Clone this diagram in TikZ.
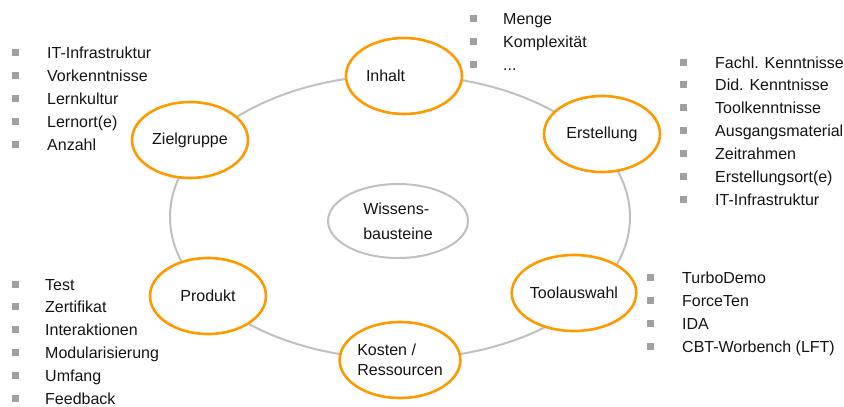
\documentclass[tikz,border=0pt]{standalone}
\usepackage{fontspec}
\setmainfont{Liberation Sans}
\usetikzlibrary{shapes.geometric}
\definecolor{ringgray}{RGB}{192,192,192}
\definecolor{topicorange}{RGB}{255,153,0}
\definecolor{bulletgray}{RGB}{160,160,160}
\definecolor{textblack}{RGB}{20,20,20}
\newcommand\weiterepunkte{...}
\begin{document}
\begin{tikzpicture}[x=1pt,y=-1pt,font=\fontsize{16}{19}\selectfont,text=textblack,line join=round,line cap=round]
\tikzset{topic/.style={ellipse,draw=topicorange,line width=2.6pt,fill=white,minimum width=116pt,minimum height=76pt,inner sep=0pt},
	ring/.style={ellipse,draw=ringgray,line width=2pt,minimum width=460pt,minimum height=284pt,inner sep=0pt},
	itemtext/.style={anchor=base west,inner sep=0pt},
	bullet/.style={fill=bulletgray,minimum size=7pt,inner sep=0pt}}
\useasboundingbox (0,0) rectangle (844,407);
\node[ring] (ring) at (400,217) {};
\node[ring,minimum width=140pt,minimum height=74pt,align=left,font=\fontsize{16}{25}\selectfont] (kern) at (398,221) {Wissens-\\bausteine};
\node[topic] (inhalt) at (404,76) {\makebox[76pt][l]{Inhalt}};
\node[topic] (erstellung) at (602,134) {Erstellung};
\node[topic] (toolauswahl) at (574,293) {Toolauswahl};
\node[topic,align=left,font=\fontsize{16}{20}\selectfont] (kosten) at (400,360) {Kosten /\\Ressourcen};
\node[topic] (produkt) at (208,296) {Produkt};
\node[topic] (zielgruppe) at (190,140) {Zielgruppe};
\foreach \t [count=\i] in {IT-Infrastruktur,Vorkenntnisse,Lernkultur,Lernort(e),Anzahl}
{\node[itemtext] (ziel\i) at (47,{58+23.2*(\i-1)}) {\t};
	\node[bullet] (zielb\i) at ([xshift=-32pt,yshift=6pt]ziel\i.base west) {};}
\foreach \t [count=\i] in {Menge,Komplexität,\weiterepunkte}
{\node[itemtext] (inh\i) at (503,{24+23*(\i-1)}) {\t};
	\node[bullet] (inhb\i) at ([xshift=-30pt,yshift=6pt]inh\i.base west) {};}
\foreach \t [count=\i] in {Fachl. Kenntnisse,Did. Kenntnisse,Toolkenntnisse,Ausgangsmaterial,Zeitrahmen,Erstellungsort(e),IT-Infrastruktur}
{\node[itemtext] (erst\i) at (715,{68+22.9*(\i-1)}) {\t};
	\node[bullet] (erstb\i) at ([xshift=-32pt,yshift=6pt]erst\i.base west) {};}
\foreach \t [count=\i] in {TurboDemo,ForceTen,IDA,CBT-Worbench (LFT)}
{\node[itemtext] (tool\i) at (682,{283+23*(\i-1)}) {\t};
	\node[bullet] (toolb\i) at ([xshift=-32pt,yshift=6pt]tool\i.base west) {};}
\foreach \t [count=\i] in {Test,Zertifikat,Interaktionen,Modularisierung,Umfang,Feedback}
{\node[itemtext] (prod\i) at (45,{290+22.8*(\i-1)}) {\t};
	\node[bullet] (prodb\i) at ([xshift=-30pt,yshift=6pt]prod\i.base west) {};}
\end{tikzpicture}
\end{document}
